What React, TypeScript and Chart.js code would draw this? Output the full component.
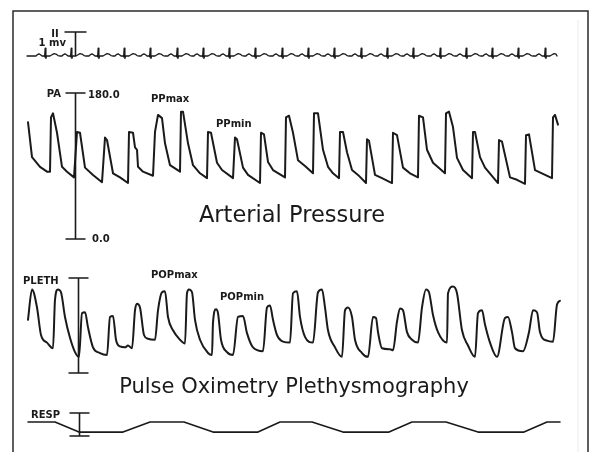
import React, { useEffect, useRef } from "react";
import { Chart, registerables } from "chart.js";

Chart.register(...registerables);

// ---------- DATA (time in samples, t = 0 at start of traces) ----------
// ECG lead II: beat (R-wave) times and one beat shape (offset in samples, mV)
const ECG_BEAT_TIMES = [17, 43, 70, 96, 122, 149, 175, 201, 227, 254, 280, 306, 333, 359, 385, 412, 438, 464, 490, 517];
const ECG_BEAT_OFFSETS = [-9, -7.5, -6, -4.5, -3, -1, -0.4, 0.2, 0.9, 1.7, 5, 7, 9, 11, 13, 14.5];
const ECG_BEAT_MV = [0, 0.06, 0.09, 0.05, 0, 0, -0.03, 0.33, -0.1, 0, 0, 0.05, 0.1, 0.08, 0.02, 0];
const ECG_START = -1;
const ECG_END = 529;

// Arterial pressure (mmHg)
const PA_TIME = [
  0, 4, 12, 19, 22, 23, 25, 29, 34, 39, 46, 49, 52, 57, 65, 74, 77, 79, 85, 92,
  100, 101, 105, 107, 109, 110, 115, 125, 127, 130, 134, 137, 142, 152, 153, 155, 160, 165, 172, 179,
  180, 183, 189, 194, 205, 207, 209, 215, 220, 232, 233, 236, 240, 245, 257, 258, 261, 265, 270, 277,
  285, 286, 290, 295, 300, 305, 311, 312, 315, 319, 324, 330, 338, 339, 341, 347, 354, 364, 365, 369,
  375, 382, 390, 391, 395, 399, 405, 417, 418, 421, 425, 429, 435, 444, 445, 447, 452, 457, 470, 471,
  474, 482, 489, 497, 498, 501, 507, 524, 525, 527, 530,
];
const PA_MMHG = [
  144, 101, 89, 83, 83, 150, 155, 131, 89, 83, 76, 132, 131, 88, 79, 70, 125, 122, 81, 76,
  69, 132, 131, 113, 110, 89, 83, 78, 132, 153, 149, 118, 91, 83, 157, 157, 118, 91, 81, 75,
  132, 131, 94, 85, 75, 125, 123, 88, 79, 69, 131, 129, 95, 85, 76, 150, 152, 131, 97, 90,
  81, 155, 155, 110, 89, 81, 75, 132, 132, 107, 85, 79, 69, 123, 121, 79, 75, 69, 131, 128,
  88, 81, 76, 152, 150, 110, 94, 81, 155, 157, 138, 100, 85, 75, 132, 132, 101, 88, 69, 122,
  120, 76, 73, 68, 128, 129, 85, 75, 150, 153, 141,
];

// Pulse oximetry plethysmography (relative units)
const PLETH_TIME = [
  0, 4, 9, 13, 19, 25, 27, 30, 33, 37, 42, 47, 51, 54, 57, 60, 65, 72, 79, 82,
  85, 88, 92, 97, 100, 104, 107, 109, 112, 116, 120, 127, 130, 134, 137, 140, 145, 152, 157, 159,
  161, 164, 167, 172, 180, 184, 185, 188, 190, 193, 199, 205, 210, 215, 219, 225, 235, 239, 242, 245,
  249, 255, 262, 265, 269, 272, 277, 285, 290, 294, 297, 300, 307, 314, 317, 320, 324, 327, 334, 340,
  345, 348, 350, 354, 362, 365, 369, 372, 375, 379, 384, 390, 394, 398, 401, 405, 410, 419, 420, 425,
  429, 434, 440, 447, 450, 454, 457, 462, 469, 477, 480, 484, 487, 495, 501, 505, 509, 512, 519, 525,
  529, 532,
];
const PLETH_VALUE = [
  56, 88, 69, 40, 32, 26, 77, 88, 85, 59, 37, 22, 17, 63, 64, 48, 27, 21, 19, 59,
  60, 35, 28, 27, 29, 26, 66, 73, 69, 40, 36, 35, 66, 85, 86, 59, 45, 35, 31, 84,
  88, 85, 56, 35, 21, 19, 53, 67, 63, 35, 22, 19, 59, 60, 42, 27, 23, 69, 71, 56,
  40, 33, 32, 84, 86, 59, 38, 32, 85, 88, 69, 45, 27, 17, 66, 69, 59, 35, 21, 17,
  59, 58, 43, 26, 25, 24, 54, 68, 66, 43, 35, 32, 69, 88, 85, 61, 43, 32, 84, 91,
  84, 45, 29, 17, 63, 66, 51, 32, 17, 58, 59, 43, 26, 23, 43, 66, 64, 43, 34, 33,
  72, 76,
];

// Respiration (relative units)
const RESP_TIME = [0, 27, 51, 95, 122, 156, 185, 230, 252, 284, 315, 361, 384, 418, 450, 496, 519, 532];
const RESP_VALUE = [0.61, 0.61, 0.17, 0.17, 0.61, 0.61, 0.17, 0.17, 0.61, 0.61, 0.17, 0.17, 0.61, 0.61, 0.17, 0.17, 0.61, 0.61];

// PA scale labels
const PA_SCALE = [0, 180];
const PA_SCALE_LABELS = ["0.0", "180.0"];

// ---------- LAYOUT ----------
const W = 589;
const H = 452;
const X_MIN = -28;
const X_MAX = 561;
const INK = "#1a1a1a";

function axisRange(vTop: number, pTop: number, vBot: number, pBot: number) {
  const k = (pBot - pTop) / (vTop - vBot);
  return { min: vBot - (H - pBot) / k, max: vTop + pTop / k };
}

const ECG_AXIS = axisRange(1, 32, 0, 56);
const PA_AXIS = axisRange(180, 93, 0, 239);
const PLETH_AXIS = axisRange(100, 278, 0, 373);
const RESP_AXIS = axisRange(1, 413, 0, 436);

function buildEcg() {
  const pts: { x: number; y: number }[] = [{ x: ECG_START, y: 0 }];
  ECG_BEAT_TIMES.forEach((bt) => {
    ECG_BEAT_OFFSETS.forEach((o, i) => {
      const t = bt + o;
      if (t > ECG_START && t < ECG_END) pts.push({ x: t, y: ECG_BEAT_MV[i] });
    });
  });
  pts.push({ x: ECG_END, y: 0 });
  return pts;
}

function zip(xs: number[], ys: number[]) {
  return xs.map((x, i) => ({ x, y: ys[i] }));
}

const overlay = {
  id: "monitorOverlay",
  beforeDraw(chart: any) {
    const ctx = chart.ctx;
    ctx.save();
    ctx.fillStyle = "#ffffff";
    ctx.fillRect(0, 0, W, H);
    // frame
    ctx.strokeStyle = "#2b2b2b";
    ctx.lineWidth = 1.5;
    ctx.beginPath();
    ctx.moveTo(13, H);
    ctx.lineTo(13, 11);
    ctx.lineTo(588, 11);
    ctx.lineTo(588, H);
    ctx.stroke();
    ctx.strokeStyle = "#f1f1f1";
    ctx.lineWidth = 1.5;
    ctx.beginPath();
    ctx.moveTo(578, 20);
    ctx.lineTo(578, H);
    ctx.stroke();
    ctx.restore();
  },
  afterDatasetsDraw(chart: any) {
    const ctx = chart.ctx;
    const sx = chart.scales.x;
    const px = (t: number) => sx.getPixelForValue(t);
    const bar = (axis: string, t: number, v0: number, v1: number, half: number, capBottom: boolean) => {
      const s = chart.scales[axis];
      const x = Math.round(px(t)) + 0.5;
      const y0 = s.getPixelForValue(v0);
      const y1 = s.getPixelForValue(v1);
      ctx.beginPath();
      ctx.moveTo(x, y0);
      ctx.lineTo(x, y1);
      ctx.moveTo(x - half, y1);
      ctx.lineTo(x + half, y1);
      if (capBottom) {
        ctx.moveTo(x - half, y0);
        ctx.lineTo(x + half, y0);
      }
      ctx.stroke();
    };
    ctx.save();
    ctx.strokeStyle = INK;
    ctx.lineWidth = 1.6;
    bar("yE", 47, 0, 1, 11, false);
    bar("yA", 47, PA_SCALE[0], PA_SCALE[1], 10, true);
    bar("yP", 50, 0, 100, 10, true);
    bar("yR", 51, 0, 1, 10, true);

    ctx.fillStyle = INK;
    ctx.font = "bold 10px 'DejaVu Sans'";
    ctx.textBaseline = "middle";
    const sA = chart.scales.yA;
    // ECG labels
    ctx.textAlign = "center";
    ctx.fillText("II", 55, 34);
    ctx.textAlign = "right";
    ctx.fillText("1 mv", 66, 43);
    // PA labels
    ctx.fillText("PA", 61, 94);
    ctx.textAlign = "left";
    ctx.fillText(PA_SCALE_LABELS[1], 88, sA.getPixelForValue(PA_SCALE[1]) + 2);
    ctx.fillText(PA_SCALE_LABELS[0], 92, sA.getPixelForValue(PA_SCALE[0]));
    ctx.fillText("PPmax", 151, 99);
    ctx.fillText("PPmin", 216, 124);
    // PLETH labels
    ctx.fillText("PLETH", 23, 281);
    ctx.fillText("POPmax", 151, 275);
    ctx.fillText("POPmin", 220, 297);
    // RESP label
    ctx.fillText("RESP", 31, 415);

    // titles
    ctx.textAlign = "center";
    ctx.textBaseline = "alphabetic";
    ctx.font = "22.5px 'DejaVu Sans'";
    ctx.fillText("Arterial Pressure", 292, 222);
    ctx.font = "21px 'DejaVu Sans'";
    ctx.fillText("Pulse Oximetry Plethysmography", 294, 393);
    ctx.restore();
  },
};

export default function App() {
  const ref = useRef<HTMLCanvasElement>(null);
  useEffect(() => {
    document.body.style.margin = "0";
    const lineDs = (label: string, data: any, axis: string, width: number, tension = 0) => ({
      label,
      data,
      yAxisID: axis,
      borderColor: INK,
      borderWidth: width,
      pointRadius: 0,
      fill: false,
      tension,
      borderJoinStyle: "round" as const,
      borderCapStyle: "round" as const,
    });
    const chart = new Chart(ref.current as HTMLCanvasElement, {
      type: "line",
      data: {
        datasets: [
          lineDs("ECG II", buildEcg(), "yE", 1.3),
          lineDs("PA", zip(PA_TIME, PA_MMHG), "yA", 2),
          { ...lineDs("PLETH", zip(PLETH_TIME, PLETH_VALUE), "yP", 2, 0.3), cubicInterpolationMode: "monotone" as const },
          lineDs("RESP", zip(RESP_TIME, RESP_VALUE), "yR", 1.6),
        ],
      },
      options: {
        responsive: false,
        animation: false,
        devicePixelRatio: 1,
        layout: { padding: 0 },
        plugins: { legend: { display: false }, tooltip: { enabled: false }, title: { display: false } },
        scales: {
          x: { type: "linear", display: false, min: X_MIN, max: X_MAX },
          yE: { type: "linear", display: false, min: ECG_AXIS.min, max: ECG_AXIS.max },
          yA: { type: "linear", display: false, min: PA_AXIS.min, max: PA_AXIS.max },
          yP: { type: "linear", display: false, min: PLETH_AXIS.min, max: PLETH_AXIS.max },
          yR: { type: "linear", display: false, min: RESP_AXIS.min, max: RESP_AXIS.max },
        },
      },
      plugins: [overlay],
    });
    return () => chart.destroy();
  }, []);
  return (
    <div style={{ position: "fixed", left: 0, top: 0, width: W, height: H, background: "#fff" }}>
      <canvas ref={ref} width={W} height={H} style={{ display: "block", width: W, height: H }} />
    </div>
  );
}
